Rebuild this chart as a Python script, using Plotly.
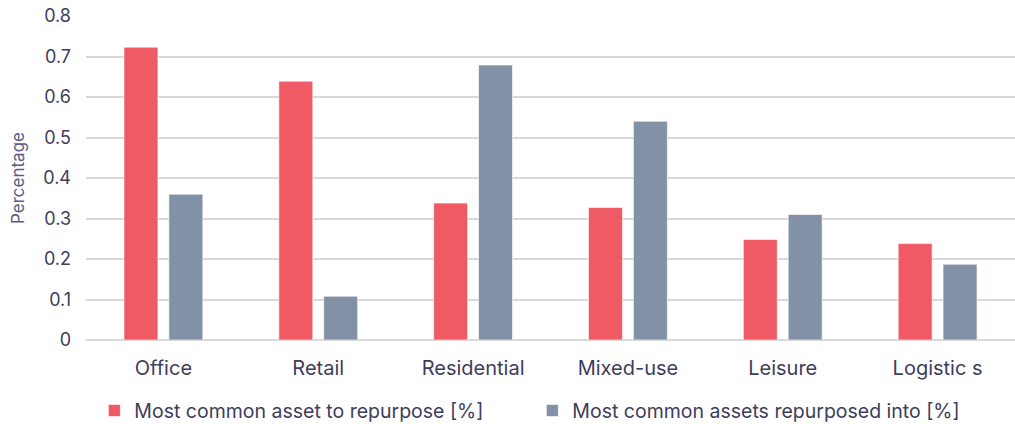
import plotly.graph_objects as go

categories = ["Office", "Retail", "Residential", "Mixed-use", "Leisure", "Logistic s"]
to_repurpose = [0.723, 0.639, 0.338, 0.327, 0.248, 0.238]
repurposed_into = [0.360, 0.108, 0.679, 0.540, 0.310, 0.187]
series_names = ["Most common asset to repurpose [%]", "Most common assets repurposed into [%]"]
y_ticks = [0, 0.1, 0.2, 0.3, 0.4, 0.5, 0.6, 0.7, 0.8]
y_tick_labels = ["0", "0.1", "0.2", "0.3", "0.4", "0.5", "0.6", "0.7", "0.8"]

RED = "#F05A64"
GREY = "#8391A6"
TEXT = "#3d3d5c"

fig = go.Figure()
fig.add_trace(go.Bar(x=categories, y=to_repurpose, name=series_names[0],
                     marker=dict(color=RED, line=dict(color="rgba(255,255,255,0.6)", width=1))))
fig.add_trace(go.Bar(x=categories, y=repurposed_into, name=series_names[1],
                     marker=dict(color=GREY, line=dict(color="rgba(255,255,255,0.6)", width=1))))

fig.update_layout(
    width=1015, height=424,
    margin=dict(l=86, r=0, t=16, b=84, autoexpand=False),
    paper_bgcolor="white", plot_bgcolor="white",
    font=dict(family="Inter, sans-serif", color=TEXT, size=20),
    barmode="group", bargap=0.42, bargroupgap=0.244,
    showlegend=True,
    legend=dict(orientation="h", x=0.009, xanchor="left", yref="container", y=0.031, yanchor="middle",
                font=dict(size=19.5, color=TEXT), entrywidth=393, entrywidthmode="pixels",
                traceorder="normal"),
    xaxis=dict(showgrid=False, showline=False, ticks="", automargin=False,
               ticklabelstandoff=14, tickfont=dict(size=20, color=TEXT)),
    yaxis=dict(range=[0, 0.8], tickvals=y_ticks, ticktext=y_tick_labels, automargin=False,
               showgrid=True, gridcolor="#d9d9d9", gridwidth=2,
               zeroline=True, zerolinecolor="#d9d9d9", zerolinewidth=2,
               ticks="", ticklabelstandoff=14, tickfont=dict(size=18, color=TEXT),
               title=dict(text="Percentage", font=dict(size=17, color="#5c5c8a"), standoff=14)),
)

fig.write_html("out.html")
